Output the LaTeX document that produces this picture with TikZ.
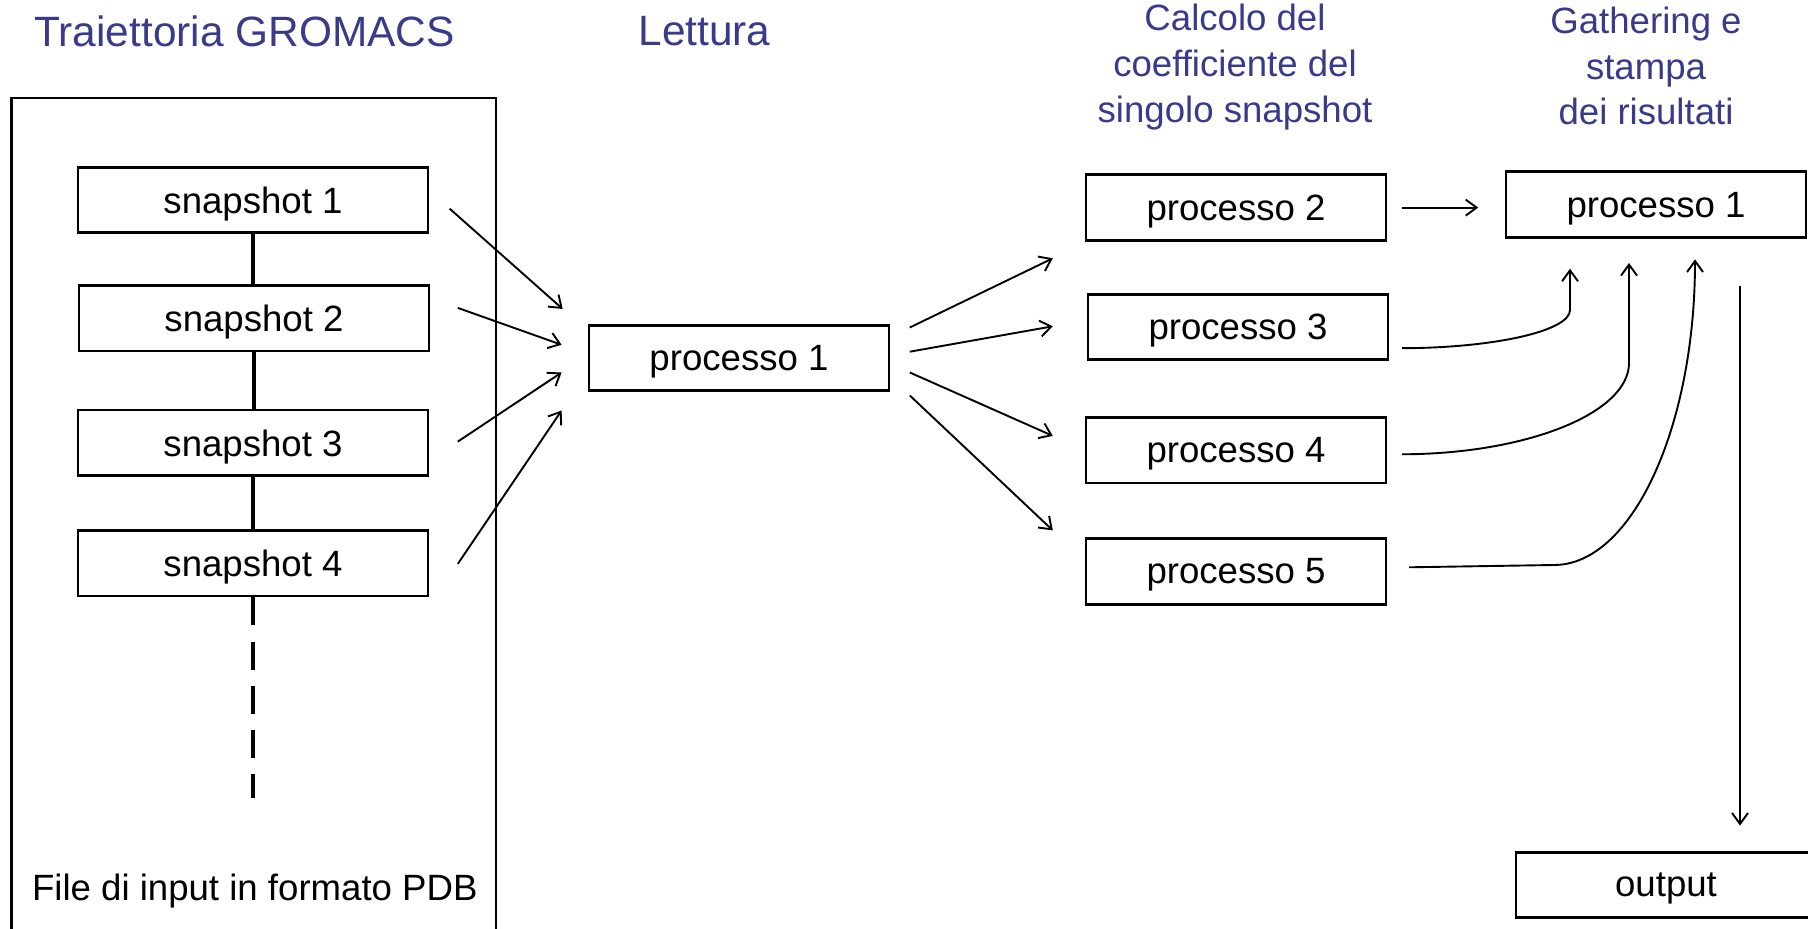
\documentclass[tikz,border=0pt]{standalone}
\usepackage{fontspec}
\setmainfont{Liberation Sans}
\usetikzlibrary{arrows.meta}
\definecolor{titleblue}{RGB}{58,58,138}
\begin{document}
\begin{tikzpicture}[x=0.5pt,y=-0.5pt,
  box/.style={draw,line width=1.4pt,minimum width=150pt,minimum height=32.8pt,inner sep=0pt,text depth=0pt,font=\fontsize{18.3pt}{22pt}\selectfont},
  snapbox/.style={box,minimum width=175pt},
  arr/.style={line width=0.95pt,-{Straight Barb[length=5.5pt,width=8pt]}},
  link/.style={line width=1.6pt},
  ttl/.style={text=titleblue,font=\fontsize{21.2pt}{25pt}\selectfont,inner sep=0pt},
  ttlsmall/.style={text=titleblue,font=\fontsize{18.3pt}{22.8pt}\selectfont,align=center,inner sep=0pt},
  plain/.style={font=\fontsize{18.3pt}{22pt}\selectfont,inner sep=0pt}]
\useasboundingbox (0,0) rectangle (1808,929);
\fill[white] (0,0) rectangle (1808,929);
% titles
\node[ttl] (t1) at (244.5,31) {Traiettoria GROMACS};
\node[ttl] (t2) at (704.5,31) {Lettura};
\node[ttlsmall] (t3) at (1235,67) {Calcolo del\\coefficiente del\\singolo snapshot};
\node[ttlsmall] (t4) at (1646,66) {Gathering e\\stampa\\dei risultati};
% input file frame
\node[draw,line width=1.1pt,minimum width=242.15pt,minimum height=431pt,inner sep=0pt] (frame) at (253.65,529) {};
\node[snapbox] (s1) at (253,200) {snapshot 1};
\node[snapbox] (s2) at (254,318.2) {snapshot 2};
\node[snapbox] (s3) at (253,442.8) {snapshot 3};
\node[snapbox] (s4) at (253,563.3) {snapshot 4};
\draw[link] (s1.south) -- (s1.south |- s2.north);
\draw[link] (s2.south) -- (s2.south |- s3.north);
\draw[link] (s3.south) -- (s3.south |- s4.north);
\coordinate (dend) at (253,798);
\draw[link,dash pattern=on 14pt off 8pt] (s4.south) -- (dend);
\node[plain] (flabel) at (254.8,891) {File di input in formato PDB};
% processes
\node[box] (pm) at (739,358) {processo 1};
\node[box] (p2) at (1236,207.5) {processo 2};
\node[box] (p3) at (1238,327) {processo 3};
\node[box] (p4) at (1236,450.3) {processo 4};
\node[box] (p5) at (1236,571.4) {processo 5};
\node[box] (pr) at (1656,204.7) {processo 1};
\node[box] (out) at (1666,885) {output};
% arrow end points
\coordinate (a1s) at (449.7,208.7); \coordinate (a1e) at (562.7,309);
\coordinate (a2s) at (457.8,307.9); \coordinate (a2e) at (561.6,344.8);
\coordinate (a3s) at (457.8,441.6); \coordinate (a3e) at (561.6,372.5);
\coordinate (a4s) at (457.8,563.9); \coordinate (a4e) at (561.6,410.5);
\draw[arr] (a1s) -- (a1e);
\draw[arr] (a2s) -- (a2e);
\draw[arr] (a3s) -- (a3e);
\draw[arr] (a4s) -- (a4e);
\coordinate (b2s) at (909.8,327.5); \coordinate (b2e) at (1052.8,258.3);
\coordinate (b3s) at (909.8,351.7); \coordinate (b3e) at (1052.8,326.3);
\coordinate (b4s) at (909.8,372.5); \coordinate (b4e) at (1052.8,435.9);
\coordinate (b5s) at (909.8,395.5); \coordinate (b5e) at (1052.8,530.4);
\draw[arr] (b2s) -- (b2e);
\draw[arr] (b3s) -- (b3e);
\draw[arr] (b4s) -- (b4e);
\draw[arr] (b5s) -- (b5e);
\coordinate (c2s) at (1402,207.6); \coordinate (c2e) at (1478.3,207.6);
\draw[arr] (c2s) -- (c2e);
\coordinate (c3s) at (1402,348.2); \coordinate (c3e) at (1570,268.7);
\draw[arr] (c3s) .. controls (1494,348) and (1570,331) .. (1570,310) -- (c3e);
\coordinate (c4s) at (1402,454.3); \coordinate (c4e) at (1629,263);
\draw[arr] (c4s) .. controls (1527,454) and (1629,413) .. (1629,363) -- (c4e);
\coordinate (c5s) at (1409,567.3); \coordinate (c5e) at (1695,259.4);
\draw[arr] (c5s) -- (1554,565) .. controls (1632,565) and (1695,427) .. (c5e);
\coordinate (ds) at (1740,286); \coordinate (de) at (1740,825.6);
\draw[arr] (ds) -- (de);
\end{tikzpicture}
\end{document}
